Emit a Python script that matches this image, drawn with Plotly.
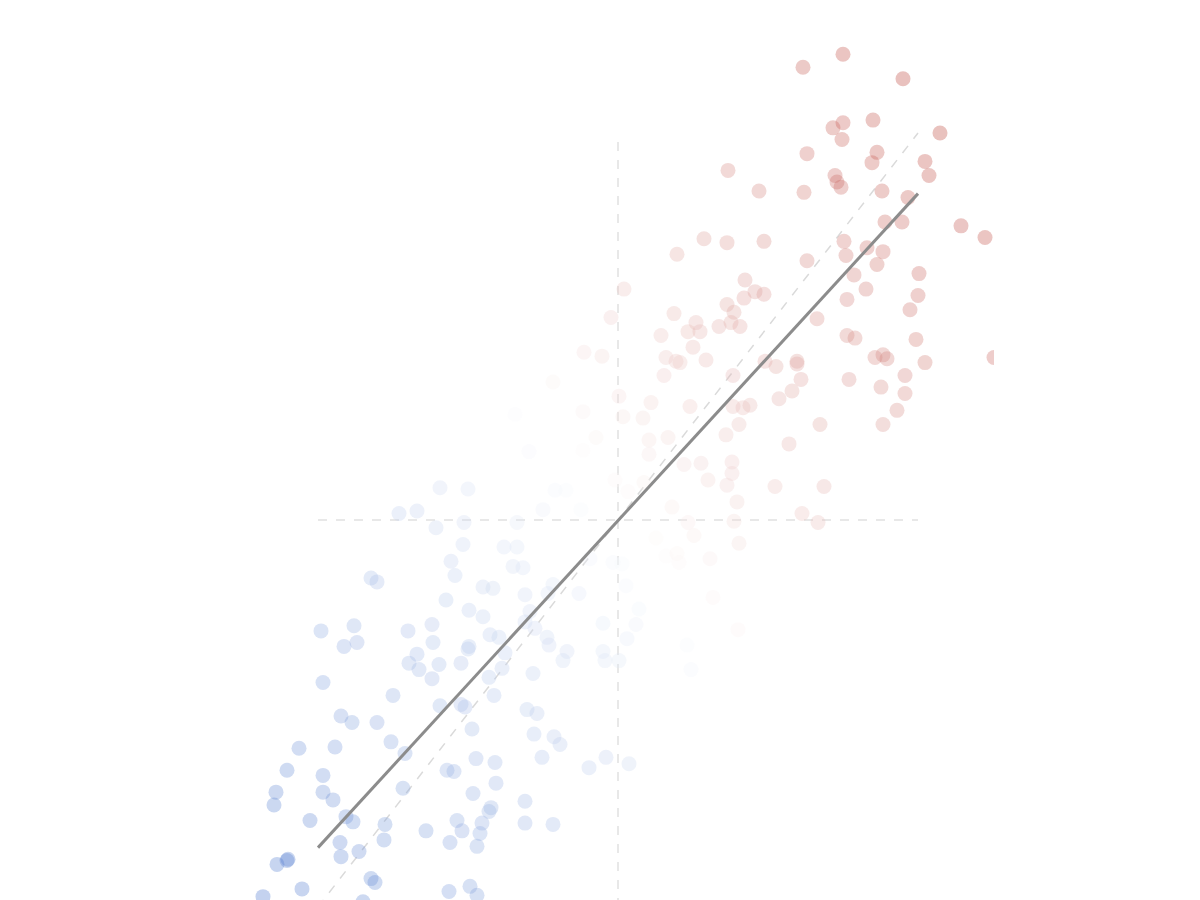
import plotly.graph_objects as go

x_vals = [
    1.85, 2.25, 2.85, 2.15, 2.25, 2.24, 2.55, 3.22, 1.89, 2.59, 2.54, 3.07, 3.11, 2.17, 2.19, 2.23,
    1.41, 1.86, 2.64, 2.90, 2.67, 2.84, 3.43, 3.67, 1.46, 2.26, 2.28, 2.49, 2.65, 1.89, 2.59, 2.36,
    3.01, 1.27, 1.37, 1.46, 2.48, 3.00, 2.29, 2.92, 1.99, 2.29, 2.37, 2.98, 1.47, 1.58, 1.79, 1.79,
    1.83, 1.74, 1.61, 2.31, 2.57, 2.65, 2.69, 3.07, 3.76, 2.87, 2.63, 2.87, 2.79, 2.65, 2.02, 1.71,
    1.57, 2.06, 1.84, 2.00,
    1.10, 0.86, 1.09, 0.59, 1.26, 1.09, 1.16, 0.06, -0.07, 0.56, 0.43, 0.70, 0.78, 0.82, 0.75, 1.01,
    1.13, 1.22, 0.48, 0.62, 0.58, 0.88, 0.46, -0.34, -0.16, 1.15, -0.65, 0.01, 0.33, 0.72, 1.15, 1.25,
    1.32, 1.21, -0.35, -1.03, 0.05, 0.25, -0.22, 0.31, 0.50, 1.08, 0.31, 0.66, 0.83, 0.90, 1.14, 1.14,
    1.09, 1.19, 1.16, 1.21, -0.89, -0.35, -0.63, -0.52, -0.75, -0.37, -0.03, 0.10, 0.26, 0.54, 0.70, 0.76,
    0.38, 0.48, 0.59, 0.61, 0.92, 0.95, 1.20, 0.69, 0.73,
    -1.01, -1.14, -1.01, -1.05, -0.95, -1.35, -1.25, -0.93, -0.39, -0.65, -0.70, -0.28, -0.05, 0.04, 0.08, 0.21,
    0.18, -0.15, 0.09, -0.88, -0.93, -0.83, -1.35, -1.28, -1.19, -0.71, -0.69, -0.51, -0.55, -0.15, -0.13, 0.01,
    -1.13, -1.16, -1.29, -0.85, -1.24, -0.91, -0.81, -0.84, -0.64, -0.58, -0.76, -0.29, -0.12, 0.11, -0.93, -0.93,
    -0.65,
    -1.78, -1.50, -2.19, -2.01, -1.82, -1.54, -1.55, -1.67, -1.63, -2.47, -2.41, -1.72, -1.49, -2.97, -2.64, -2.61,
    -2.74, -2.10, -1.86, -1.85, -1.49, -1.50, -2.01, -2.09, -1.99, -1.79, -1.86, -1.57, -2.95, -2.25, -2.77, -2.66,
    -2.41, -1.78, -1.57, -1.53, -3.19, -2.83, -2.27, -2.13, -1.46, -3.31, -2.95, -1.71, -1.64, -1.42, -1.23, -3.42,
    -3.44, -2.95, -2.85, -2.15, -1.45, -1.22, -3.08, -2.72, -2.65, -2.33, -2.34, -1.92, -1.61, -1.56, -1.68, -1.36,
    -1.38, -1.27, -1.29, -1.41, -2.78, -2.77, -2.59, -3.41, -3.31, -3.30, -2.47, -2.43, -3.16, -3.55, -2.55, -1.69,
    -1.48, -1.41,
]
y_vals = [
    3.51, 3.61, 3.42, 3.04, 3.08, 2.95, 3.10, 3.00, 2.84, 2.85, 2.77, 2.78, 2.67, 2.67, 2.62, 2.58,
    2.55, 2.54, 2.55, 2.50, 2.31, 2.31, 2.28, 2.19, 2.16, 2.16, 2.05, 2.11, 2.08, 2.01, 1.98, 1.90,
    1.91, 1.86, 1.77, 1.75, 1.79, 1.74, 1.71, 1.63, 1.56, 1.43, 1.41, 1.40, 1.23, 1.19, 1.23, 1.21,
    1.09, 1.00, 0.94, 1.09, 1.26, 1.28, 1.25, 1.22, 1.26, 1.12, 1.03, 0.98, 0.85, 0.74, 0.74, 0.59,
    0.26, 0.26, 0.05, -0.02,
    2.71, 2.18, 2.15, 2.06, 1.72, 1.67, 1.61, 1.79, 1.57, 1.60, 1.43, 1.46, 1.53, 1.46, 1.34, 1.50,
    1.53, 1.50, 1.26, 1.22, 1.23, 1.24, 1.12, 1.30, 1.27, 1.12, 1.07, 0.96, 0.91, 0.88, 0.88, 0.87,
    0.89, 0.74, 0.84, 0.82, 0.80, 0.79, 0.64, 0.62, 0.64, 0.66, 0.51, 0.43, 0.44, 0.31, 0.45, 0.36,
    0.27, 0.14, -0.01, -0.18, 0.53, 0.54, 0.23, 0.23, 0.08, 0.08, 0.31, 0.22, 0.29, 0.10, -0.02, -0.12,
    -0.14, -0.28, -0.26, -0.33, -0.30, -0.60, -0.85, -0.97, -1.16,
    -0.02, -0.21, -0.21, -0.36, -0.37, -0.52, -0.53, -0.58, -0.57, -0.50, -0.57, -0.30, -0.33, -0.34, -0.51, -0.69,
    -0.81, -0.80, -0.92, -0.71, -0.79, -0.84, -0.75, -0.89, -0.91, -0.91, -0.97, -1.02, -1.09, -1.02, -1.09, -1.09,
    -1.03, -1.15, -1.22, -1.19, -1.36, -1.47, -1.50, -1.66, -1.68, -1.74, -1.84, -1.92, -1.84, -1.89, -2.18, -2.35,
    -2.36,
    0.25, 0.24, 0.05, 0.07, -0.06, -0.02, -0.19, -0.32, -0.43, -0.45, -0.48, -0.62, -0.70, -0.86, -0.82, -0.95,
    -0.98, -0.86, -0.81, -0.95, -0.98, -1.00, -1.04, -1.11, -1.16, -1.12, -1.23, -1.11, -1.26, -1.36, -1.52, -1.57,
    -1.57, -1.44, -1.43, -1.45, -1.77, -1.76, -1.72, -1.81, -1.62, -1.94, -1.98, -1.94, -1.95, -1.85, -1.88, -2.11,
    -2.21, -2.11, -2.17, -2.08, -2.12, -2.04, -2.33, -2.30, -2.34, -2.36, -2.48, -2.41, -2.33, -2.41, -2.50, -2.35,
    -2.43, -2.23, -2.26, -2.53, -2.50, -2.61, -2.57, -2.67, -2.64, -2.63, -2.78, -2.81, -2.86, -2.92, -2.96, -2.88,
    -2.84, -2.91,
]

# Fitted regression line endpoints
fit_x = [-3.0, 3.0]
fit_y = [-2.54, 2.53]

# Reference lines
identity_x = [-3.0, 3.0]
identity_y = [-3.0, 3.0]
hline_x = [-3.0, 3.0]
hline_y = [0.0, 0.0]
vline_x = [0.0, 0.0]
vline_y = [-3.0, 3.0]

color_vals = [a + b for a, b in zip(x_vals, y_vals)]

diverging = [
    [0.0, "rgb(70,115,205)"],
    [0.5, "rgb(255,255,255)"],
    [1.0, "rgb(185,55,45)"],
]

fig = go.Figure()

guide = dict(color="rgb(232,232,232)", width=2, dash="dash")
fig.add_trace(go.Scatter(x=hline_x, y=hline_y, mode="lines", line=guide, hoverinfo="skip"))
fig.add_trace(go.Scatter(x=vline_x, y=vline_y, mode="lines", line=guide, hoverinfo="skip"))
fig.add_trace(go.Scatter(x=identity_x, y=identity_y, mode="lines",
                         line=dict(color="rgb(218,218,218)", width=1.5, dash="dash"), hoverinfo="skip"))

fig.add_trace(go.Scatter(
    x=x_vals, y=y_vals, mode="markers",
    marker=dict(size=15, color=color_vals, colorscale=diverging,
                cmin=-6.5, cmax=6.5, opacity=0.32, line=dict(width=0)),
))

fig.add_trace(go.Scatter(x=fit_x, y=fit_y, mode="lines",
                         line=dict(color="rgb(140,140,140)", width=3), hoverinfo="skip"))

fig.update_layout(
    width=1200, height=900,
    margin=dict(l=0, r=214, t=0, b=0),
    paper_bgcolor="white", plot_bgcolor="white",
    showlegend=False,
    xaxis=dict(range=[-6.10, 3.76], visible=False, showgrid=False, zeroline=False),
    yaxis=dict(range=[-3.008, 3.969], visible=False, showgrid=False, zeroline=False),
)

fig.write_html("out.html")
